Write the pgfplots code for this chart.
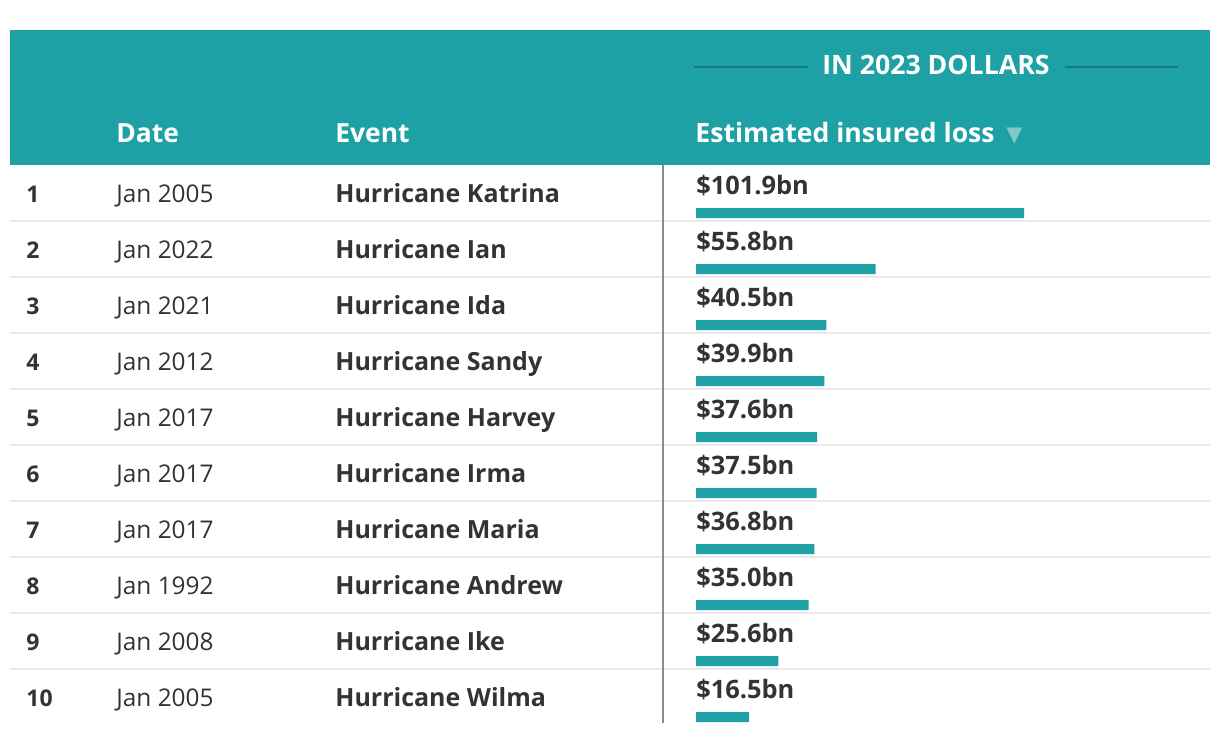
\documentclass[border=0pt]{standalone}
\usepackage{pgfplots}
\usepackage{pgfplotstable}
\pgfplotsset{compat=1.18}
\usepackage{fontspec}
\setmainfont{Open Sans}
\newfontfamily\sym{DejaVu Sans}
\definecolor{teal1}{HTML}{1EA1A5}
\definecolor{tealdark}{HTML}{16797D}
\definecolor{tri}{HTML}{80CACB}
\definecolor{txt}{HTML}{333333}
\definecolor{sep}{HTML}{EAEAEA}
\definecolor{vline}{HTML}{8A8A8A}

\pgfplotstableread{
y val
213 101.9
269 55.8
325 40.5
381 39.9
437 37.6
493 37.5
549 36.8
605 35.0
661 25.6
717 16.5
}\bars

\newcommand\row[4]{%
  \node[inner sep=0pt, anchor=base west, font=\bfseries\fontsize{11.5}{13}\selectfont, text=txt] at (axis cs:26,{202.5+56*(#1-1)}) {#1};
  \node[inner sep=0pt, anchor=base west, font=\fontsize{12.2}{14}\selectfont, text=txt] at (axis cs:116,{202.5+56*(#1-1)}) {#2};
  \node[inner sep=0pt, anchor=base west, font=\bfseries\fontsize{12.5}{14}\selectfont, text=txt] at (axis cs:335,{202.5+56*(#1-1)}) {#3};
  \node[inner sep=0pt, anchor=base west, font=\bfseries\fontsize{12.7}{14}\selectfont, text=txt] at (axis cs:696,{194.5+56*(#1-1)}) {#4};
}

\begin{document}
\begin{tikzpicture}
\begin{axis}[
  at={(0,0)}, anchor=south west,
  scale only axis, width=610pt, height=367pt,
  xmin=0, xmax=1220, ymin=0, ymax=734, y dir=reverse,
  axis lines=none, xtick=\empty, ytick=\empty, clip=false,
]
\path (axis cs:0,0) rectangle (axis cs:1220,734);
\fill[teal1] (axis cs:10,30) rectangle (axis cs:1210,165);
\pgfplotsinvokeforeach{0,...,8}{
  \draw[sep, line width=1pt] (axis cs:10,{221+56*#1}) -- (axis cs:1210,{221+56*#1});
}
\draw[vline, line width=1pt] (axis cs:663,165) -- (axis cs:663,723);
\draw[tealdark, line width=0.8pt] (axis cs:694,67) -- (axis cs:808,67);
\draw[tealdark, line width=0.8pt] (axis cs:1065,67) -- (axis cs:1178,67);
\node[inner sep=0pt, anchor=base, font=\bfseries\fontsize{13.35}{15}\selectfont, text=white] at (axis cs:936,74) {IN 2023 DOLLARS};
\node[inner sep=0pt, anchor=base west, font=\bfseries\fontsize{13.2}{15}\selectfont, text=white] at (axis cs:116,142) {Date};
\node[inner sep=0pt, anchor=base west, font=\bfseries\fontsize{13.2}{15}\selectfont, text=white] at (axis cs:335,142) {Event};
\node[inner sep=0pt, anchor=base west, font=\bfseries\fontsize{13.3}{15}\selectfont, text=white] at (axis cs:695,142) {Estimated insured loss};
\node[inner sep=0pt, anchor=base west, font=\sym\fontsize{10.5}{12}\selectfont, text=tri] at (axis cs:1006,141) {▼};
\row{1}{Jan 2005}{Hurricane Katrina}{\$101.9bn}
\row{2}{Jan 2022}{Hurricane Ian}{\$55.8bn}
\row{3}{Jan 2021}{Hurricane Ida}{\$40.5bn}
\row{4}{Jan 2012}{Hurricane Sandy}{\$39.9bn}
\row{5}{Jan 2017}{Hurricane Harvey}{\$37.6bn}
\row{6}{Jan 2017}{Hurricane Irma}{\$37.5bn}
\row{7}{Jan 2017}{Hurricane Maria}{\$36.8bn}
\row{8}{Jan 1992}{Hurricane Andrew}{\$35.0bn}
\row{9}{Jan 2008}{Hurricane Ike}{\$25.6bn}
\row{10}{Jan 2005}{Hurricane Wilma}{\$16.5bn}
\end{axis}
\begin{axis}[
  at={(0,0)}, anchor=south west,
  scale only axis, width=610pt, height=367pt,
  xmin=-216.23, xmax=162.79, ymin=0, ymax=734, y dir=reverse,
  axis lines=none, xtick=\empty, ytick=\empty,
  xbar, bar width=5pt,
]
\addplot[fill=teal1, draw=none] table[x=val, y=y] {\bars};
\end{axis}
\end{tikzpicture}
\end{document}
